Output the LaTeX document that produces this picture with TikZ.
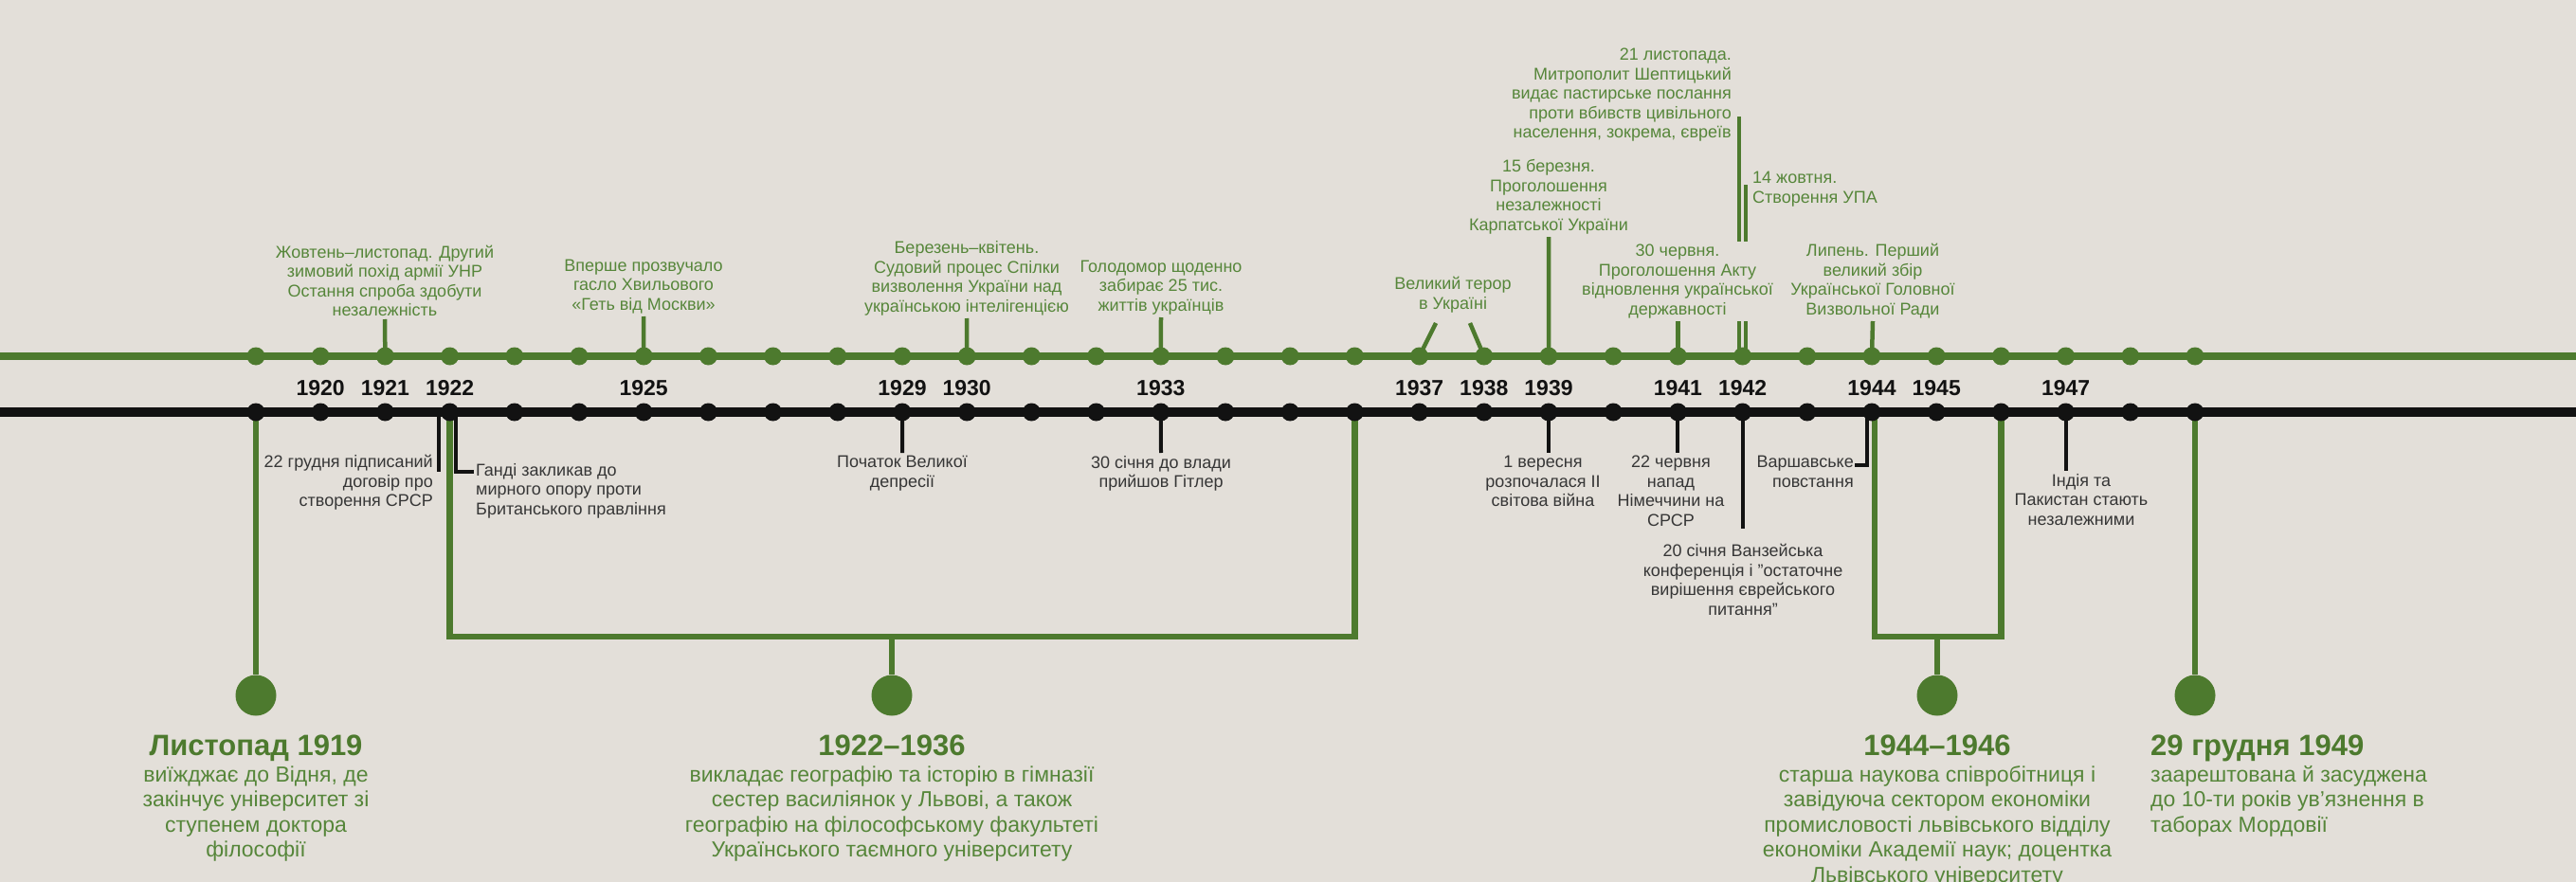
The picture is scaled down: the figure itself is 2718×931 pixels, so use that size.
\documentclass[tikz,border=0pt]{standalone}
\usepackage{fontspec}
\setmainfont{Liberation Sans}
\usetikzlibrary{positioning}
\definecolor{bg}{RGB}{227,223,217}
\definecolor{leaf}{RGB}{77,122,46}
\definecolor{leaftext}{RGB}{86,134,58}
\definecolor{ink}{RGB}{18,18,18}

\begin{document}
\begin{tikzpicture}[x=1pt,y=-1pt,
  gline/.style={draw=leaf,line width=8pt},
  bline/.style={draw=ink,line width=10pt},
  gdot/.style={circle,fill=leaf,inner sep=0pt,minimum size=19pt},
  bdot/.style={circle,fill=ink,inner sep=0pt,minimum size=19pt},
  year/.style={font=\fontsize{23}{23}\selectfont\bfseries,text=ink,inner sep=0pt},
  up/.style={font=\fontsize{18}{20.5}\selectfont,text=leaftext,align=center,inner xsep=0pt,inner ysep=3pt,anchor=south},
  down/.style={font=\fontsize{18}{20.5}\selectfont,text=ink!85,align=center,inner xsep=0pt,inner ysep=3pt,anchor=north},
  gstem/.style={draw=leaf,line width=4.5pt},
  bstem/.style={draw=ink,line width=4pt},
  drop/.style={draw=leaf,line width=6.5pt,line join=miter},
  bigdot/.style={circle,fill=leaf,inner sep=0pt,minimum size=43pt},
  title/.style={font=\fontsize{31}{31}\selectfont\bfseries,text=leaf,inner sep=0pt,text height=22pt,text depth=6pt,anchor=base},
  body/.style={font=\fontsize{23}{26.5}\selectfont,text=leaftext,align=center,inner sep=0pt}]
  \fill[bg] (0,0) rectangle (2718,931);
  \useasboundingbox (0,0) rectangle (2718,931);

  \foreach \i in {0,...,30} {
    \coordinate (g\i) at (270+68.2*\i,376);
    \coordinate (b\i) at (270+68.2*\i,435);
  }
  \coordinate (gw) at (0,376);
  \coordinate (ge) at (2718,376);
  \coordinate (bw) at (0,435);
  \coordinate (be) at (2718,435);
  \draw[gline] (gw) -- (ge);
  \draw[bline] (bw) -- (be);

  \node[up] (ev21) at (406,337) {Жовтень–листопад. Другий\\зимовий похід армії УНР\\Остання спроба здобути\\незалежність};
  \node[up] (ev25) at (679,334) {Вперше прозвучало\\гасло Хвильового\\«Геть від Москви»};
  \node[up] (ev30) at (1020,336) {Березень–квітень.\\Судовий процес Спілки\\визволення України над\\українською інтелігенцією};
  \node[up] (ev33) at (1225,335) {Голодомор щоденно\\забирає 25 тис.\\життів українців};
  \node[up] (terror) at (1533,333) {Великий терор\\в Україні};
  \node[up] (carpath) at (1634,250) {15 березня.\\Проголошення\\незалежності\\Карпатської України};
  \node[up,anchor=north east,align=right] (sheptytsky) at (1827,48) {21 листопада.\\Митрополит Шептицький\\видає пастирське послання\\проти вбивств цивільного\\населення, зокрема, євреїв};
  \node[up,anchor=north west,align=left] (upa) at (1849,178) {14 жовтня.\\Створення УПА};
  \node[up] (zbir) at (1976,339) {Липень. Перший\\великий збір\\Української Головної\\Визвольної Ради};

  \coordinate (ter1) at (1515,341);
  \coordinate (ter2) at (1551,341);
  \coordinate (shEnd) at (1835,123);
  \coordinate (upaEnd) at (1842,195);
  \draw[gstem] (g2) -- (ev21.south);
  \draw[gstem] (g6) -- (ev25.south);
  \draw[gstem] (g11) -- (ev30.south);
  \draw[gstem] (g14) -- (ev33.south);
  \draw[gstem] (g18) -- (ter1);
  \draw[gstem] (g19) -- (ter2);
  \draw[gstem] (g20) -- (carpath.south);
  \draw[gstem] (shEnd |- g23) -- (shEnd);
  \draw[gstem] (upaEnd |- g23) -- (upaEnd);
  \draw[gstem] (g22) -- (g22 |- 0,339);
  \draw[gstem] (g25) -- (zbir.south);
  \node[up,fill=bg,inner xsep=4pt] (act) at (1770,339) {30 червня.\\Проголошення Акту\\відновлення української\\державності};

  \node[down,anchor=north east,align=right] (ussr) at (457,477) {22 грудня підписаний\\договір про\\створення СРСР};
  \node[down,anchor=north west,align=left] (gandhi) at (502,486) {Ганді закликав до\\мирного опору проти\\Британського правління};
  \node[down] (depr) at (952,478) {Початок Великої\\депресії};
  \node[down] (hitler) at (1225,478) {30 січня до влади\\прийшов Гітлер};
  \node[down] (ww2) at (1628,478) {1 вересня\\розпочалася II\\світова війна};
  \node[down] (barb) at (1763,478) {22 червня\\напад\\Німеччини на\\СРСР};
  \node[down] (wannsee) at (1839,571) {20 січня Ванзейська\\конференція і "остаточне\\вирішення єврейського\\питання"};
  \node[down,anchor=north east,align=right] (warsaw) at (1956,478) {Варшавське\\повстання};
  \node[down] (india) at (2196,497) {Індія та\\Пакистан стають\\незалежними};

  \coordinate (ussrEnd) at (463,498);
  \coordinate (gandhiTop) at (481,435);
  \coordinate (gandhiHook) at (500,498);
  \coordinate (warTop) at (1970,435);
  \coordinate (warHook) at (1957,491);
  \draw[bstem] (ussrEnd |- b3) -- (ussrEnd);
  \draw[bstem] (gandhiTop) |- (gandhiHook);
  \draw[bstem] (b10) -- (depr.north);
  \draw[bstem] (b14) -- (hitler.north);
  \draw[bstem] (b20) -- (b20 |- ww2.north);
  \draw[bstem] (b22) -- (b22 |- barb.north);
  \draw[bstem,shorten >=13pt] (b23) -- (b23 |- wannsee.north);
  \draw[bstem] (warTop) |- (warHook);
  \draw[bstem] (b28) -- (b28 |- india.north);

  \node[bigdot] (c1919) at (b0 |- 0,734) {};
  \node[bigdot] (c1922) at (941,734) {};
  \node[bigdot] (c1944) at (2044,734) {};
  \node[bigdot] (c1949) at (b30 |- 0,734) {};
  \coordinate (brA) at (941,672);
  \coordinate (brB) at (2044,672);
  \coordinate (b44) at (1978,435);
  \draw[drop] (b0) -- (c1919);
  \draw[drop] (b3) |- (brA) -| (b17);
  \draw[drop] (brA) -- (c1922);
  \draw[drop] (b44) |- (brB) -| (b27);
  \draw[drop] (brB) -- (c1944);
  \draw[drop] (b30) -- (c1949);

  \foreach \i in {0,...,30} {
    \node[gdot] at (g\i) {};
    \node[bdot] at (b\i) {};
  }
  \foreach \i/\yr in {1/1920,2/1921,3/1922,6/1925,10/1929,11/1930,14/1933,18/1937,19/1938,20/1939,22/1941,23/1942,25/1944,26/1945,28/1947}
    \node[year] (y\yr) at (270+68.2*\i,410) {\yr};

  \node[title] (t1919) at (270,797) {Листопад 1919};
  \node[body,below=5pt of t1919] (d1919) {виїжджає до Відня, де\\закінчує університет зі\\ступенем доктора\\філософії};
  \node[title] (t1922) at (941,797) {1922–1936};
  \node[body,below=5pt of t1922] (d1922) {викладає географію та історію в гімназії\\сестер василіянок у Львові, а також\\географію на філософському факультеті\\Українського таємного університету};
  \node[title] (t1944) at (2044,797) {1944–1946};
  \node[body,below=5pt of t1944] (d1944) {старша наукова співробітниця і\\завідуюча сектором економіки\\промисловості львівського відділу\\економіки Академії наук; доцентка\\Львівського університету};
  \node[title,anchor=base west] (t1949) at (2269,797) {29 грудня 1949};
  \node[body,align=left,below right=5pt and 0pt of t1949.south west] (d1949) {заарештована й засуджена\\до 10-ти років ув'язнення в\\таборах Мордовії};
\end{tikzpicture}
\end{document}
